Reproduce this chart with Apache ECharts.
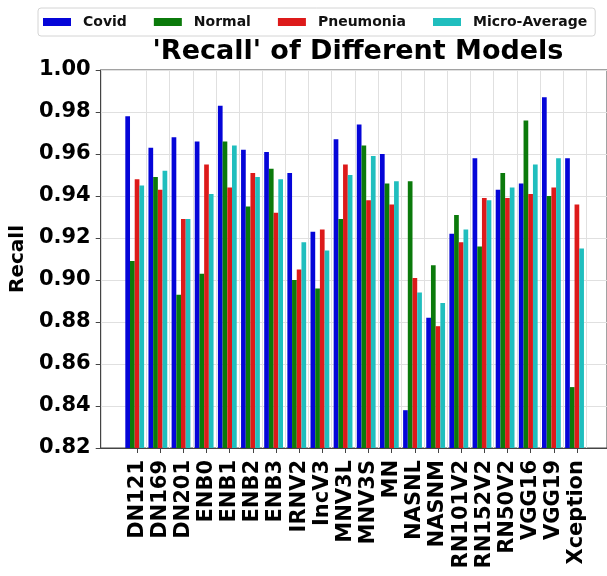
<!DOCTYPE html>
<html>
<head>
<meta charset="utf-8">
<script src="https://cdn.jsdelivr.net/npm/echarts@6/dist/echarts.min.js"></script>
<style>html,body{margin:0;padding:0;background:#fff;}#chart{width:607px;height:576px;}</style>
</head>
<body>
<div id="chart"></div>
<script>
const categories = ['DN121','DN169','DN201','ENB0','ENB1','ENB2','ENB3','IRNV2','IncV3','MNV3L','MNV3S','MN','NASNL','NASNM','RN101V2','RN152V2','RN50V2','VGG16','VGG19','Xception'];
const covid    = [0.978,0.963,0.968,0.966,0.983,0.962,0.961,0.951,0.923,0.967,0.974,0.960,0.838,0.882,0.922,0.958,0.943,0.946,0.987,0.958];
const normal   = [0.909,0.949,0.893,0.903,0.966,0.935,0.953,0.900,0.896,0.929,0.964,0.946,0.947,0.907,0.931,0.916,0.951,0.976,0.940,0.849];
const pneumonia= [0.948,0.943,0.929,0.955,0.944,0.951,0.932,0.905,0.924,0.955,0.938,0.936,0.901,0.878,0.918,0.939,0.939,0.941,0.944,0.936];
const microAvg = [0.945,0.952,0.929,0.941,0.964,0.949,0.948,0.918,0.914,0.950,0.959,0.947,0.894,0.889,0.924,0.938,0.944,0.955,0.958,0.915];
const yTicks = [0.82,0.84,0.86,0.88,0.90,0.92,0.94,0.96,0.98,1.00];

const FONT = 'DejaVu Sans';
const idx = categories.map((_, i) => i);
function pairs(arr){ return arr.map((v, i) => [i, v]); }

const chart = echarts.init(document.getElementById('chart'), null, {renderer: 'canvas'});
const barW = 4.7;
const mk = (name, data, color) => ({
  name, type: 'bar', data: pairs(data), barWidth: barW, barGap: '0%',
  itemStyle: {color}, emphasis: {disabled: true}, animation: false, z: 3
});
chart.setOption({
  animation: false,
  backgroundColor: '#ffffff',
  title: {
    text: "'Recall' of Different Models",
    left: 353, top: 33, textAlign: 'center',
    textStyle: {fontFamily: FONT, fontWeight: 'bold', fontSize: 27, color: '#000'}
  },
  legend: {
    data: ['Covid','Normal','Pneumonia','Micro-Average'],
    left: 38, top: 8,
    padding: [7, 8, 7, 5],
    borderColor: '#d4d4d4', borderWidth: 1, borderRadius: 3,
    itemWidth: 28, itemHeight: 8, itemGap: 27, icon: 'rect',
    textStyle: {fontFamily: FONT, fontWeight: 'bold', fontSize: 14, color: '#111', padding: [0,0,0,7]}
  },
  grid: {
    left: 100, right: -4, top: 70, bottom: 128,
    show: true, borderColor: '#444', borderWidth: 1, backgroundColor: 'transparent'
  },
  xAxis: {
    type: 'value', min: -1.57, max: 20.3,
    axisLine: {show: true, onZero: false, lineStyle: {color: '#444', width: 1}},
    axisTick: {show: true, customValues: idx, length: 5, lineStyle: {color: '#444'}},
    axisLabel: {
      customValues: idx, rotate: 90, margin: 12,
      formatter: v => categories[Math.round(v)] || '',
      fontFamily: FONT, fontWeight: 'bold', fontSize: 21, color: '#000'
    },
    splitLine: {show: false}
  },
  yAxis: {
    type: 'value', min: 0.82, max: 1.00, interval: 0.02,
    name: 'Recall', nameLocation: 'middle', nameGap: 56, nameRotate: 90,
    nameTextStyle: {fontFamily: FONT, fontWeight: 'bold', fontSize: 20, color: '#000'},
    axisLine: {show: true, onZero: false, lineStyle: {color: '#444', width: 1}},
    axisTick: {show: true, length: 5, lineStyle: {color: '#444'}},
    axisLabel: {
      margin: 10, formatter: v => yTicks.reduce((a,b)=>Math.abs(b-v)<Math.abs(a-v)?b:a).toFixed(2),
      fontFamily: FONT, fontWeight: 'bold', fontSize: 21, color: '#000'
    },
    splitLine: {show: true, lineStyle: {color: '#e0e0e0', width: 1}}
  },
  series: [
    mk('Covid', covid, '#0505d8'),
    mk('Normal', normal, '#0b7a0b'),
    mk('Pneumonia', pneumonia, '#dd1a1a'),
    mk('Micro-Average', microAvg, '#20bebe'),
    {
      name: 'pad', type: 'bar', data: [], barWidth: barW, barGap: '0%', silent: true, z: 3,
      markLine: {
        silent: true, symbol: 'none', z: 1, animation: false,
        label: {show: false},
        lineStyle: {color: '#e0e0e0', width: 1, type: 'solid'},
        emphasis: {disabled: true},
        data: idx.map(i => ({xAxis: i}))
      }
    }
  ]
});
</script>
</body>
</html>
